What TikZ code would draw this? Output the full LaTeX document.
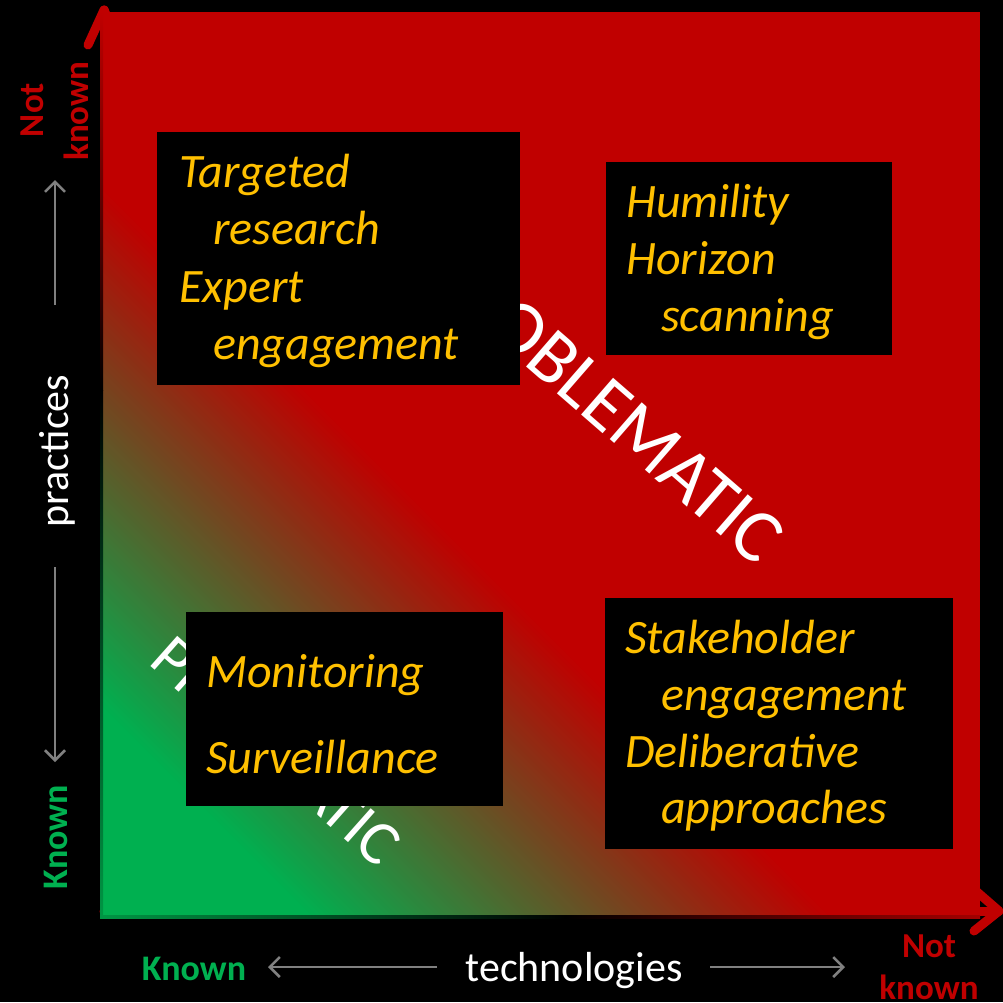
\documentclass[tikz,border=0pt]{standalone}
\usepackage{fontspec}
\setmainfont{Carlito}
\usetikzlibrary{arrows.meta}
\definecolor{qgreen}{HTML}{00B050}
\definecolor{qred}{HTML}{C00000}
\definecolor{qyellow}{HTML}{FFC000}
\definecolor{qgray}{HTML}{808080}
\begin{document}
\begin{tikzpicture}[x=1pt,y=-1pt,
  box/.style={fill=black, draw=none, inner sep=0pt, outer sep=0pt, anchor=north west},
  itemtext/.style={anchor=base west, inner sep=0pt, text=qyellow, font=\fontsize{48}{58}\selectfont\itshape},
  bigword/.style={inner sep=0pt, text=white},
  notknown/.style={inner sep=0pt, anchor=base, text=qred, font=\fontsize{35}{44}\selectfont\bfseries},
  knownlab/.style={inner sep=0pt, anchor=base, text=qgreen, font=\fontsize{36}{44}\selectfont\bfseries},
  axislab/.style={inner sep=0pt, anchor=base, text=white, font=\fontsize{42}{50}\selectfont},
  grayarrow/.style={draw=qgray, line width=2.5pt, -{Straight Barb[length=10pt,width=20pt]}},
  redaxis/.style={draw=qred, line width=9pt, line cap=round, line join=round}
]
\fill[black] (0,0) rectangle (1003,1002);
\useasboundingbox (0,0) rectangle (1003,1002);

% red axes with arrow heads
\coordinate (vtip) at (104,10);
\coordinate (vbl) at (88,45);
\coordinate (vbr) at (120,45);
\coordinate (origin) at (104,911);
\coordinate (htip) at (999,911);
\coordinate (hbl) at (974,931);
\coordinate (hbu) at (976,891);
\draw[redaxis] (vbl) -- (vtip) -- (vbr);
\draw[redaxis] (vtip) -- (origin);
\draw[redaxis] (hbl) -- (htip) -- (hbu);
\draw[redaxis] (origin) -- (htip);

% the quadrant square: red, with a diagonal green-to-red gradient from the lower-left corner
\fill[qred] (100,12) rectangle (980,918);
\fill[qgreen] (100,918) -- (100,704) -- (314,918) -- cycle;
\foreach \s in {210,215,...,725}{
  \pgfmathsetmacro{\p}{(\s-210)/520*100}
  \pgfmathsetmacro{\sb}{\s+6}
  \fill[qred!\p!qgreen] (100,918-\s) -- (100+\s,918) -- (100+\sb,918) -- (100,918-\sb) -- cycle;
}
% edge strips
\shade[bottom color=qgreen!85!black, top color=black] (100,390) rectangle (103,918);
\shade[top color=qred, bottom color=black] (100,12) rectangle (103,390);
\shade[left color=qgreen!85!black, right color=black] (103,915) rectangle (565,918);
\shade[left color=black, right color=qred!85!black] (565,915) rectangle (980,918);

% big diagonal words
\node[bigword, font=\fontsize{76}{76}\selectfont, rotate=-41] (prob) at (606,404) {PROBLEMATIC};
\node[bigword, font=\fontsize{63}{63}\selectfont, rotate=-41.6] (prag) at (276,751) {PRAGMATIC};

% boxes
\node[box, minimum width=363pt, minimum height=253pt] (b1) at (157,132) {};
\node[box, minimum width=286pt, minimum height=193pt] (b2) at (606,162) {};
\node[box, minimum width=317pt, minimum height=194pt] (b3) at (186,612) {};
\node[box, minimum width=348pt, minimum height=251pt] (b4) at (605,598) {};

% box texts
\node[itemtext] (t1a) at (179,187) {Targeted};
\node[itemtext] (t1b) at (213,244) {research};
\node[itemtext] (t1c) at (179,302) {Expert};
\node[itemtext] (t1d) at (213,359) {engagement};

\node[itemtext] (t2a) at (626,217) {Humility};
\node[itemtext] (t2b) at (626,274) {Horizon};
\node[itemtext] (t2c) at (661,331) {scanning};

\node[itemtext] (t3a) at (206,687) {Monitoring};
\node[itemtext] (t3b) at (206,773) {Surveillance};

\node[itemtext] (t4a) at (625,653) {Stakeholder};
\node[itemtext] (t4b) at (661,710) {engagement};
\node[itemtext] (t4c) at (625,767) {Deliberative};
\node[itemtext] (t4d) at (661,823) {approaches};

% axis labels
\node[notknown, rotate=90] (nk1) at (43,110) {Not};
\node[notknown, rotate=90] (nk2) at (88,111) {known};
\node[notknown] (nk3) at (929,957) {Not};
\node[notknown] (nk4) at (929,999) {known};
\node[knownlab, rotate=90] (kv) at (67,837) {Known};
\node[knownlab] (kh) at (194,980) {Known};
\node[axislab, rotate=90] (prac) at (68,451) {practices};
\node[axislab] (tech) at (574,981) {technologies};

% gray arrows
\coordinate (pu1) at (55,305);
\coordinate (pu2) at (55,180);
\coordinate (pd1) at (55,567);
\coordinate (pd2) at (55,762);
\coordinate (tl1) at (437,967);
\coordinate (tl2) at (268,967);
\coordinate (tr1) at (710,967);
\coordinate (tr2) at (845,967);
\draw[grayarrow] (pu1) -- (pu2);
\draw[grayarrow] (pd1) -- (pd2);
\draw[grayarrow] (tl1) -- (tl2);
\draw[grayarrow] (tr1) -- (tr2);
\end{tikzpicture}
\end{document}
